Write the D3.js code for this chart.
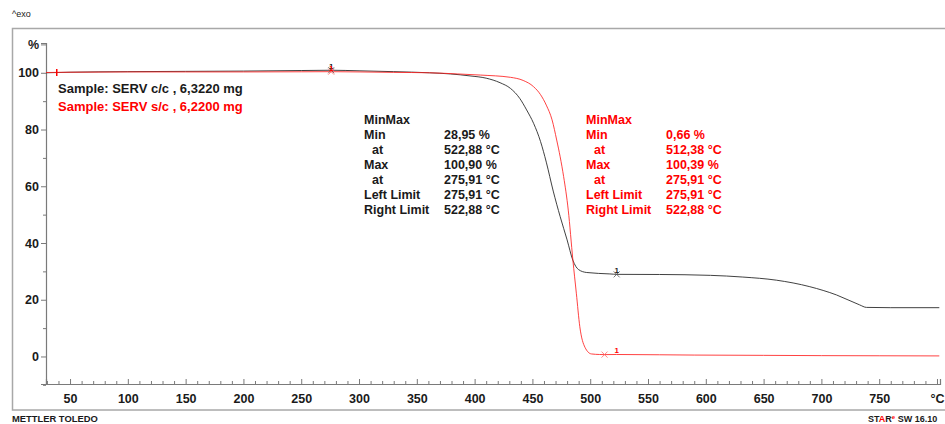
<!DOCTYPE html>
<html>
<head>
<meta charset="utf-8">
<script src="https://cdn.jsdelivr.net/npm/d3@7"></script>
<style>
  body { margin: 0; background: #fff; }
  svg { display: block; font-family: "Liberation Sans", Arial, sans-serif; font-weight: bold; }
</style>
</head>
<body>
<script>
// SERV c/c (black)
const tempCC = [29.2, 50, 100, 150, 200, 250, 275.9, 300, 330, 361, 379, 396, 410, 422, 431, 439, 445, 451, 457, 462, 468, 474, 480, 485, 490, 497, 517, 522.9, 560, 604, 632, 661, 690, 713, 733, 739, 760, 802];
const massCC = [100.0, 100.2, 100.4, 100.5, 100.6, 100.8, 100.9, 100.7, 100.4, 100.0, 99.6, 98.9, 98.1, 96.5, 94.5, 91.0, 86.9, 82.2, 75.8, 68.5, 58.3, 49.3, 41.1, 33.9, 30.6, 29.6, 29.1, 28.95, 28.9, 28.6, 28.0, 26.9, 24.6, 21.7, 18.2, 17.3, 17.2, 17.2];

// SERV s/c (red)
const tempSC = [29.2, 50, 100, 150, 200, 250, 275.9, 300, 330, 361, 385, 405, 431, 442, 451, 457, 462, 467, 471, 474, 477, 481, 485, 488, 491, 495.5, 501, 508, 512.4, 522.9, 560, 590, 650, 700, 750, 802];
const massSC = [100.1, 100.2, 100.3, 100.3, 100.3, 100.35, 100.39, 100.3, 100.15, 100.0, 99.6, 99.2, 98.4, 97.3, 95.1, 92.3, 88.6, 83.4, 76.3, 70.4, 63.4, 51.6, 34.0, 22.3, 10.5, 3.2, 0.9, 0.7, 0.66, 0.7, 0.6, 0.5, 0.4, 0.3, 0.25, 0.2];

const xMajor = [50, 100, 150, 200, 250, 300, 350, 400, 450, 500, 550, 600, 650, 700, 750, 800];
const xMinor = d3.range(30, 801, 10).filter((d) => d % 50 !== 0);
const yMajor = [0, 20, 40, 60, 80, 100, 110];
const yMinor = [-10, 10, 30, 50, 70, 90];

const sampleNames = ["Sample: SERV c/c , 6,3220 mg", "Sample: SERV s/c , 6,2200 mg"];
const rowLabels = ["MinMax", "Min", "  at", "Max", "  at", "Left Limit", "Right Limit"];
const valuesCC = ["", "28,95 %", "522,88 °C", "100,90 %", "275,91 °C", "275,91 °C", "522,88 °C"];
const valuesSC = ["", "0,66 %", "512,38 °C", "100,39 %", "275,91 °C", "275,91 °C", "522,88 °C"];

// markers: [temperature, mass] for extremum crosses and limit labels
const crossCC = [[275.91, 100.9], [522.88, 28.95]];
const crossSC = [[275.91, 100.39], [512.38, 0.66]];
const limitCC = [[275.91, 100.9], [522.88, 28.95]];
const limitSC = [[275.91, 100.39], [522.88, 0.7]];

const width = 945;
const height = 424;
const black = "#1a1a1a";
const red = "#ff0000";

const svg = d3
  .select("body")
  .append("svg")
  .attr("width", width)
  .attr("height", height);

const x = d3.scaleLinear().domain([29.2, 802.6]).range([46, 940]);
const y = d3.scaleLinear().domain([-9.7, 110.5]).range([384, 43]);

// outer frame
svg
  .append("rect")
  .attr("x", 12.5)
  .attr("y", 28.5)
  .attr("width", 960)
  .attr("height", 381.5)
  .attr("fill", "none")
  .attr("stroke", "#a8a8a8")
  .attr("stroke-width", 1.5);

svg
  .append("text")
  .attr("x", 12)
  .attr("y", 17)
  .attr("font-size", 9)
  .attr("font-weight", "normal")
  .attr("fill", black)
  .text("^exo");

// axes
const fmtX = (d) => (d === 800 ? "°C" : d);
const fmtY = (d) => (d === 110 ? "%" : d);

const xAxis = svg.append("g").attr("transform", `translate(0,384)`);
xAxis.call(d3.axisBottom(x).tickValues(xMajor).tickSize(-5).tickPadding(10).tickFormat(fmtX));
const xAxisMinor = svg.append("g").attr("transform", `translate(0,384)`);
xAxisMinor.call(d3.axisBottom(x).tickValues(xMinor).tickSize(-3).tickFormat(""));

const yAxis = svg.append("g").attr("transform", `translate(46,0)`);
yAxis.call(d3.axisLeft(y).tickValues(yMajor).tickSize(5).tickPadding(2).tickFormat(fmtY));
const yAxisMinor = svg.append("g").attr("transform", `translate(46,0)`);
yAxisMinor.call(d3.axisLeft(y).tickValues(yMinor).tickSize(3).tickFormat(""));

svg.selectAll(".domain").attr("stroke", "#7a7a7a").attr("stroke-width", 1.2);
svg.selectAll(".tick line").attr("stroke", "#7a7a7a");
svg
  .selectAll(".tick text")
  .attr("font-size", 12.5)
  .attr("font-weight", "bold")
  .attr("font-family", "Liberation Sans, Arial, sans-serif")
  .attr("fill", black);
yAxisMinor.select(".domain").remove();
xAxisMinor.select(".domain").remove();

// curves
const line = d3
  .line()
  .x((d) => x(d[0]))
  .y((d) => y(d[1]))
  .curve(d3.curveMonotoneX);

const plot = svg.append("g");

plot
  .append("path")
  .datum(d3.zip(tempCC, massCC))
  .attr("d", line)
  .attr("fill", "none")
  .attr("stroke", "#2b2b2b")
  .attr("stroke-width", 0.9);

plot
  .append("path")
  .datum(d3.zip(tempSC, massSC))
  .attr("d", line)
  .attr("fill", "none")
  .attr("stroke", "#ff2020")
  .attr("stroke-width", 0.85);

// start marker of the red curve
plot
  .append("line")
  .attr("x1", x(38.5))
  .attr("x2", x(38.5))
  .attr("y1", y(100.1) - 3.5)
  .attr("y2", y(100.1) + 3.5)
  .attr("stroke", red)
  .attr("stroke-width", 1.5);

const drawCross = (pts, color) => {
  plot
    .selectAll(null)
    .data(pts)
    .enter()
    .append("path")
    .attr("d", (d) => {
      const cx = x(d[0]);
      const cy = y(d[1]);
      const s = 3;
      return `M${cx - s},${cy - s}L${cx + s},${cy + s}M${cx - s},${cy + s}L${cx + s},${cy - s}`;
    })
    .attr("fill", "none")
    .attr("stroke", color)
    .attr("stroke-width", 0.8);
};

const drawLimit = (pts, color) => {
  plot
    .selectAll(null)
    .data(pts)
    .enter()
    .append("text")
    .attr("x", (d) => x(d[0]))
    .attr("y", (d) => y(d[1]) - 1)
    .attr("text-anchor", "middle")
    .attr("font-size", 8)
    .attr("fill", color)
    .text("1");
};

drawCross(crossCC, "#555");
drawCross(crossSC, "#ff6666");
drawLimit(limitCC, black);
drawLimit(limitSC, red);

// sample legend
svg
  .selectAll(null)
  .data(sampleNames)
  .enter()
  .append("text")
  .attr("x", 58)
  .attr("y", (_, i) => 93 + i * 18)
  .attr("font-size", 13)
  .attr("fill", (_, i) => (i === 0 ? black : red))
  .text((d) => d);

// MinMax blocks
const drawBlock = (x0, xv, values, color) => {
  const g = svg.append("g").attr("fill", color).attr("font-size", 12.5);
  g.selectAll(null)
    .data(rowLabels)
    .enter()
    .append("text")
    .attr("x", (d) => (d.startsWith(" ") ? x0 + 8 : x0))
    .attr("y", (_, i) => 124 + i * 15)
    .text((d) => d.trim());
  g.selectAll(null)
    .data(values)
    .enter()
    .append("text")
    .attr("x", xv)
    .attr("y", (_, i) => 124 + i * 15)
    .text((d) => d);
};

drawBlock(364, 444, valuesCC, black);
drawBlock(586, 666, valuesSC, red);

// footer
svg
  .append("text")
  .attr("x", 12)
  .attr("y", 422)
  .attr("font-size", 9.4)
  .attr("fill", black)
  .text("METTLER TOLEDO");

const star = svg
  .append("text")
  .attr("x", 868)
  .attr("y", 422)
  .attr("font-size", 9)
  .attr("fill", black);
star.append("tspan").text("ST");
star.append("tspan").attr("fill", red).text("A");
star.append("tspan").text("R");
star.append("tspan").attr("fill", red).attr("font-size", 6).attr("dy", -3).text("e");
star.append("tspan").attr("dy", 3).text(" SW 16.10");
</script>
</body>
</html>
